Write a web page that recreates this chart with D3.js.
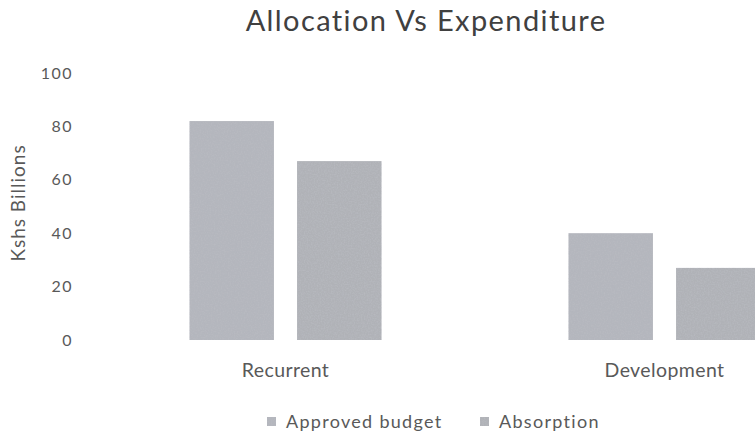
<!DOCTYPE html>
<html><head><meta charset="utf-8">
<script src="https://cdn.jsdelivr.net/npm/d3@7"></script>
<style>
html,body{margin:0;padding:0;background:#fff;overflow:hidden;}
text{font-family:Lato,"Open Sans",sans-serif;fill:#595959;}
</style></head>
<body><svg id="c" width="755" height="436"></svg>
<script>
const categories = ["Recurrent", "Development"];
const seriesNames = ["Approved budget", "Absorption"];
const approvedBudget = [82, 40];
const absorption = [67, 27];
const yTicks = [0, 20, 40, 60, 80, 100];
const title = "Allocation Vs Expenditure";
const yLabel = "Kshs Billions";
const colors = ["#b4b6bd", "#b0b2b7"];
const FONT = 'Lato,"Open Sans",sans-serif';

const svg = d3.select("#c");
const defs = svg.append("defs");
const f = defs.append("filter").attr("id","grain").attr("x",0).attr("y",0).attr("width",1).attr("height",1);
f.append("feTurbulence").attr("type","fractalNoise").attr("baseFrequency",0.7).attr("numOctaves",2).attr("seed",3).attr("result","n");
f.append("feColorMatrix").attr("in","n").attr("type","matrix")
 .attr("values","0 0 0 0 0.5  0 0 0 0 0.51  0 0 0 0 0.55  1.2 0 0 0 -0.45").attr("result","g");
f.append("feComposite").attr("in","g").attr("in2","SourceGraphic").attr("operator","in").attr("result","g2");
const m = f.append("feMerge");
m.append("feMergeNode").attr("in","SourceGraphic");
m.append("feMergeNode").attr("in","g2");

const y = d3.scaleLinear().domain([0,100]).range([340,73]);
const x0 = d3.scaleBand().domain(categories).range([96,854]).paddingInner(0).paddingOuter(0);
const x1 = d3.scaleBand().domain(seriesNames).range([0,192]).paddingInner(0.215);

svg.append("text").attr("x",426).attr("y",31).attr("text-anchor","middle")
  .style("font-size","29px").style("letter-spacing","1.4px").style("fill","#404040").text(title);

const yAxis = svg.append("g").attr("transform","translate(80,0)")
  .call(d3.axisLeft(y).tickValues(yTicks).tickSize(0).tickPadding(7));
yAxis.select(".domain").remove();
yAxis.selectAll("text").style("font-size","16px").style("letter-spacing","1.5px")
  .style("font-family",FONT).attr("fill","#595959");

svg.append("text").attr("transform","translate(25,203) rotate(-90)").attr("text-anchor","middle")
  .style("font-size","19px").style("letter-spacing","1px").text(yLabel);

const data = categories.map((c,i)=>({cat:c, vals:[approvedBudget[i], absorption[i]]}));
const g = svg.append("g");
data.forEach(d=>{
  d.vals.forEach((v,j)=>{
    g.append("rect")
      .attr("x", x0(d.cat) + (x0.bandwidth()-192)/2 + x1(seriesNames[j]))
      .attr("y", y(v)).attr("width", x1.bandwidth()).attr("height", y(0)-y(v))
      .attr("fill", colors[j]).attr("filter","url(#grain)");
  });
});

const xAxis = svg.append("g").attr("transform","translate(0,340)")
  .call(d3.axisBottom(x0).tickSize(0).tickPadding(23));
xAxis.select(".domain").remove();
xAxis.selectAll("text").style("font-size","19.5px").style("letter-spacing","0.4px")
  .style("font-family",FONT).attr("fill","#595959");

const legendX = [267, 480];
seriesNames.forEach((s,i)=>{
  svg.append("rect").attr("x",legendX[i]).attr("y",417).attr("width",9).attr("height",9)
    .attr("fill",colors[i]).attr("filter","url(#grain)");
  svg.append("text").attr("x",legendX[i]+19).attr("y",428).style("font-size","18px")
    .style("letter-spacing","1.3px").text(s);
});
</script></body></html>
